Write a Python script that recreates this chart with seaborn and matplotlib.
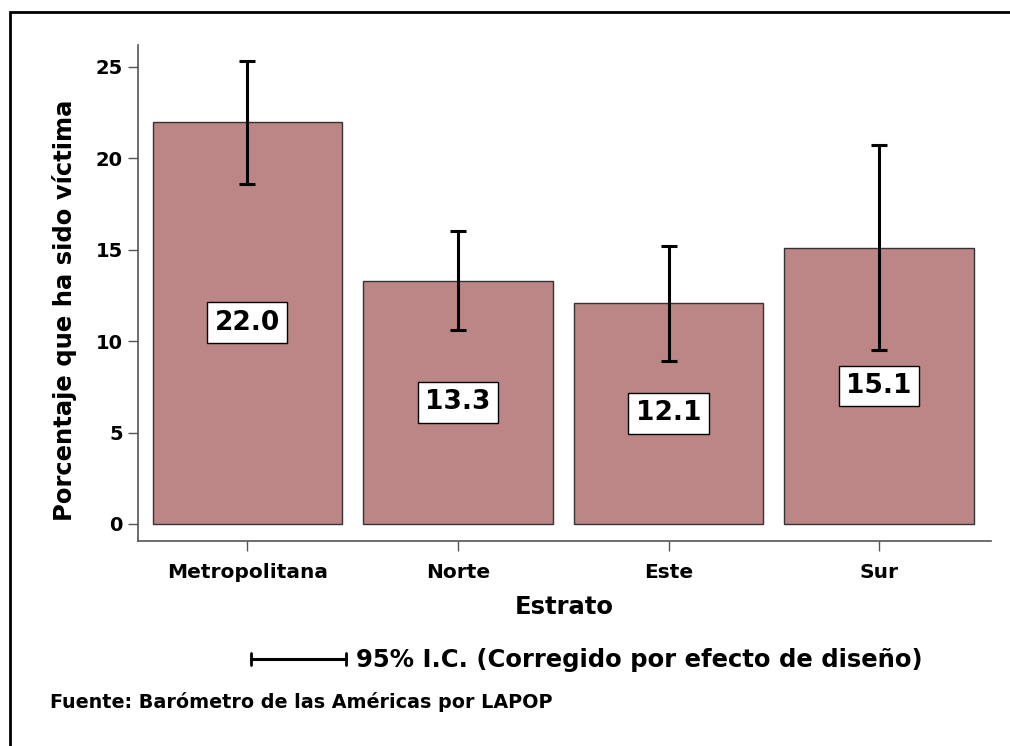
import matplotlib.pyplot as plt
import matplotlib.patches as mpatches
import pandas as pd
import seaborn as sns

estratos = ['Metropolitana', 'Norte', 'Este', 'Sur']
porcentaje = [22.0, 13.3, 12.1, 15.1]
ic_inf = [18.6, 10.6, 8.9, 9.5]
ic_sup = [25.3, 16.0, 15.2, 20.7]

df = pd.DataFrame({'Estrato': estratos, 'Porcentaje': porcentaje,
                   'inf': ic_inf, 'sup': ic_sup})

sns.set_style('white')
plt.rcParams['font.family'] = ['DejaVu Sans']
plt.rcParams['font.weight'] = 'bold'
plt.rcParams['text.color'] = 'black'
plt.rcParams['axes.labelcolor'] = 'black'
plt.rcParams['xtick.labelcolor'] = 'black'
plt.rcParams['ytick.labelcolor'] = 'black'

fig = plt.figure(figsize=(10.1, 7.46), dpi=100)
ax = fig.add_axes([0.1366, 0.2748, 0.8444, 0.665])

sns.barplot(data=df, x='Estrato', y='Porcentaje', color='#bc8586', saturation=1,
            width=0.9, edgecolor='#333333', linewidth=1, errorbar=None, ax=ax)

# intervalos de confianza
err = [df['Porcentaje'] - df['inf'], df['sup'] - df['Porcentaje']]
ax.errorbar(range(len(df)), df['Porcentaje'], yerr=err, fmt='none',
            ecolor='black', elinewidth=2.2, capsize=5.5, capthick=2.2, zorder=5)

for i, v in enumerate(df['Porcentaje']):
    ax.text(i, v / 2, f'{v:.1f}', ha='center', va='center', fontsize=19,
            fontweight='bold', zorder=6,
            bbox=dict(boxstyle='square,pad=0.28', fc='white', ec='black', lw=1))

ax.set_xlim(-0.52, 3.53)
ax.set_ylim(-0.93, 26.2)
ax.set_yticks([0, 5, 10, 15, 20, 25])
sns.despine(ax=ax)
for s in ['left', 'bottom']:
    ax.spines[s].set_color('#555555')
    ax.spines[s].set_linewidth(1.2)
ax.tick_params(axis='both', which='both', direction='out', length=7, width=1,
               color='#555555', labelsize=14)
ax.tick_params(axis='x', pad=9, labelsize=14.5)
ax.tick_params(axis='y', pad=4, left=True)
ax.tick_params(axis='x', bottom=True)
for lbl in ax.get_xticklabels() + ax.get_yticklabels():
    lbl.set_fontweight('bold')

ax.set_xlabel('Estrato', fontsize=17.5, fontweight='bold', labelpad=9)
ax.set_ylabel('Porcentaje que ha sido víctima', fontsize=17.5, fontweight='bold')
ax.yaxis.set_label_coords(-0.071, 0.465)

# leyenda del intervalo
fig.add_artist(plt.Line2D([251 / 1010, 346 / 1010], [1 - 659 / 746] * 2,
                          color='black', lw=2.2))
for xp in [251, 346]:
    fig.add_artist(plt.Line2D([xp / 1010] * 2, [1 - 653 / 746, 1 - 665 / 746],
                              color='black', lw=2))
fig.text(356 / 1010, 1 - 660 / 746, '95% I.C. (Corregido por efecto de diseño)',
         fontsize=17.5, fontweight='bold', va='center', ha='left')
fig.text(50 / 1010, 1 - 702 / 746, 'Fuente: Barómetro de las Américas por LAPOP',
         fontsize=13.8, fontweight='bold', va='center', ha='left')

# marco
fig.add_artist(mpatches.Rectangle((10 / 1010, -0.1), 1.2, 1 - 12 / 746 + 0.1,
                                  transform=fig.transFigure, fill=False,
                                  ec='black', lw=2))

fig.savefig('out.png', dpi=100)
